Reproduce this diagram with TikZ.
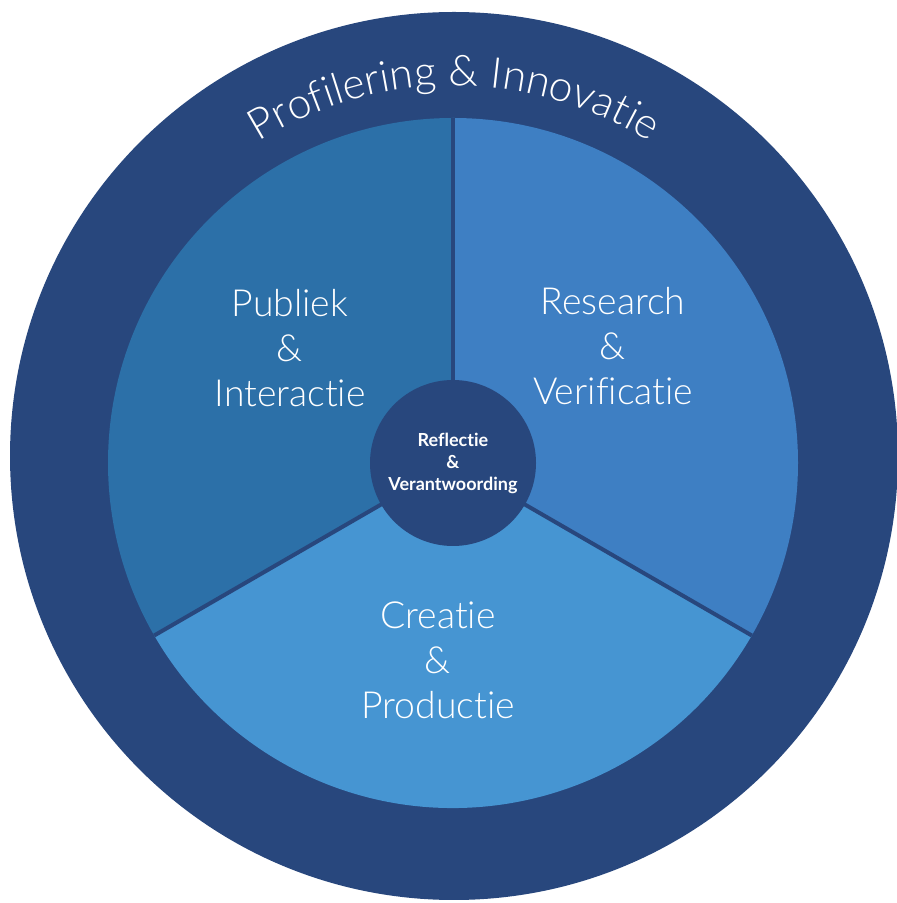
\documentclass[tikz,border=0pt]{standalone}
\usepackage{fontspec}
\IfFontExistsTF{Lato Light}
  {\setmainfont{Lato Light}[BoldFont=Lato Bold,Ligatures=NoCommon]}
  {\setmainfont{Lato}[Ligatures=NoCommon]}
\usetikzlibrary{decorations.text}
\definecolor{ringblue}{RGB}{40,71,125}
\definecolor{pubblue}{RGB}{44,112,168}
\definecolor{resblue}{RGB}{62,127,195}
\definecolor{creblue}{RGB}{70,149,210}
\newcommand\arcfont{\fontsize{32}{36}\selectfont}
\tikzset{lbl/.style={text=white,align=center,font=\fontsize{28}{33.75}\selectfont}}
\tikzset{hub/.style={circle,fill=ringblue,minimum size=124.5pt,inner sep=0pt,text=white,align=center,font=\bfseries\fontsize{13.5}{16.5}\selectfont}}
\tikzset{sep/.style={draw=ringblue,line width=3pt}}

\begin{document}
\begin{tikzpicture}[x=0.75pt,y=0.75pt]
    \useasboundingbox (0,0) rectangle (896,903);
    \coordinate (O) at (453,440);
    \coordinate (R) at (454,447);
    \fill[ringblue] (R) circle[radius=444];
    \fill[pubblue] (O) -- ++(90:345) arc[start angle=90,end angle=210,radius=345] -- cycle;
    \fill[resblue] (O) -- ++(90:345) arc[start angle=90,end angle=-30,radius=345] -- cycle;
    \fill[creblue] (O) -- ++(-30:345) arc[start angle=-30,end angle=-150,radius=345] -- cycle;
    \path (O) ++(90:345) coordinate (S1);
    \path (O) ++(210:345) coordinate (S2);
    \path (O) ++(-30:345) coordinate (S3);
    \draw[sep] (O) -- (S1);
    \draw[sep] (O) -- (S2);
    \draw[sep] (O) -- (S3);
    \path (R) ++(170:370) coordinate (A0);
    \path[decorate,decoration={text along path,text align=center,
        text={|\arcfont\color{white}|Profilering {\&} Innovatie}}]
        (A0) arc[start angle=170,end angle=10,radius=370];
    \node[lbl] (pub) at (290,555) {Publiek\\\&\\Interactie};
    \node[lbl] (res) at (613,557) {Research\\\&\\Verificatie};
    \node[lbl] (cre) at (438,243) {Creatie\\\&\\Productie};
    \node[hub] (hub) at (O) {Reflectie\\\&\\Verantwoording};
\end{tikzpicture}
\end{document}
